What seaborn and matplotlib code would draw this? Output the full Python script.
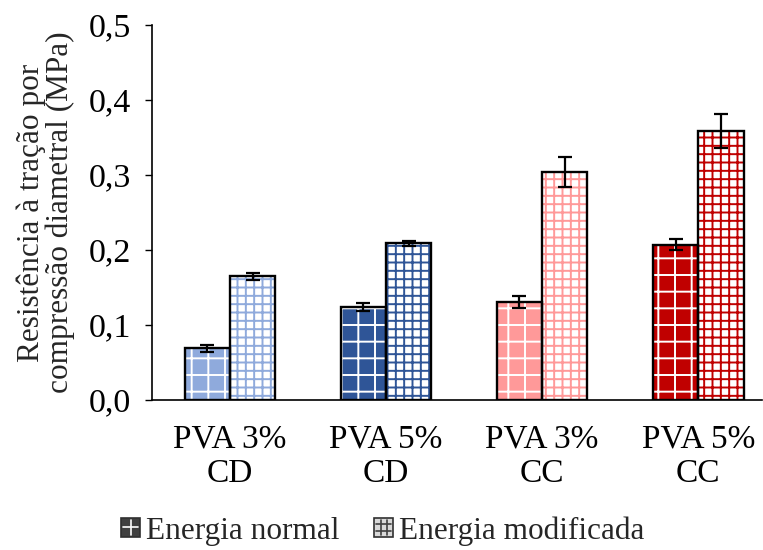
import matplotlib
matplotlib.use("Agg")
import matplotlib.pyplot as plt
from matplotlib.patches import Rectangle
from matplotlib.legend_handler import HandlerBase
from matplotlib.lines import Line2D
import seaborn as sns
import pandas as pd

categories = ["PVA 3%\nCD", "PVA 5%\nCD", "PVA 3%\nCC", "PVA 5%\nCC"]
series = ["Energia normal", "Energia modificada"]
normal = [0.069, 0.124, 0.131, 0.207]
modified = [0.165, 0.209, 0.304, 0.359]
normal_err = [0.0045, 0.005, 0.008, 0.0075]
modified_err = [0.005, 0.0033, 0.02, 0.023]
bar_colors = ["#8FAADC", "#2F5597", "#FF9999", "#C00000"]
y_ticks = [0.0, 0.1, 0.2, 0.3, 0.4, 0.5]
y_tick_labels = ["0,0", "0,1", "0,2", "0,3", "0,4", "0,5"]
y_label = "Resistência à tração por\ncompressão diametral (MPa)"

sns.set_theme(style="white")
plt.rcParams["font.family"] = ["Liberation Serif", "DejaVu Serif"]
plt.rcParams["hatch.linewidth"] = 1.4
plt.rcParams["font.size"] = 22

df = pd.DataFrame({
    "grupo": categories * 2,
    "valor": normal + modified,
    "serie": [series[0]] * 4 + [series[1]] * 4,
})

fig = plt.figure(figsize=(7.63, 5.5), dpi=100)
ax = fig.add_axes([0.199, 0.2727, 0.8, 0.6818])

sns.barplot(data=df, x="grupo", y="valor", hue="serie", order=categories,
            hue_order=series, errorbar=None, width=0.58, dodge=True,
            ax=ax, legend=False)

errs = [normal_err, modified_err]
vals = [normal, modified]
bar_containers = list(ax.containers)
for s_idx, container in enumerate(bar_containers):
    bars = sorted(container.patches, key=lambda p: p.get_x())
    for c_idx, bar in enumerate(bars):
        col = bar_colors[c_idx]
        if s_idx == 0:
            bar.set_facecolor(col)
            bar.set_edgecolor("white")
            bar.set_hatch("+")
        else:
            bar.set_facecolor("white")
            bar.set_edgecolor(col)
            bar.set_hatch("++")
        bar.set_linewidth(0)
        ax.add_patch(Rectangle((bar.get_x(), bar.get_y()), bar.get_width(),
                               bar.get_height(), fill=False, edgecolor="black",
                               linewidth=1.7, zorder=3))
        xc = bar.get_x() + bar.get_width() / 2
        ax.errorbar(xc, vals[s_idx][c_idx], yerr=errs[s_idx][c_idx], fmt="none",
                    ecolor="black", elinewidth=1.6, capsize=5, capthick=1.6,
                    zorder=5)

ax.set_xlim(-0.5, 3.41)
ax.set_ylim(0, 0.5)
ax.set_yticks(y_ticks)
ax.set_yticklabels(y_tick_labels)
ax.set_xlabel("")
ax.set_ylabel(y_label, fontsize=22.5, linespacing=0.95, labelpad=10)
ax.tick_params(axis="y", which="major", left=True, length=5, width=1,
               color="black", pad=10, labelsize=24.5, labelcolor="black")
ax.tick_params(axis="x", length=0, pad=17, labelsize=24, labelcolor="black")
for side in ["top", "right"]:
    ax.spines[side].set_visible(False)
for side in ["left", "bottom"]:
    ax.spines[side].set_color("black")
    ax.spines[side].set_linewidth(1.2)


class SquareKey(HandlerBase):
    def __init__(self, face, line, grid):
        super().__init__()
        self.face, self.line, self.grid = face, line, grid

    def create_artists(self, legend, orig_handle, xdescent, ydescent,
                       width, height, fontsize, trans):
        s = min(width, height)
        x0 = -xdescent + (width - s) / 2
        y0 = -ydescent + (height - s) / 2
        arts = [Rectangle((x0, y0), s, s, facecolor=self.face,
                          edgecolor="#303030", linewidth=1.2, transform=trans)]
        for k in range(1, self.grid):
            f = k / self.grid
            arts.append(Line2D([x0 + f * s] * 2, [y0 + 1.5, y0 + s - 1.5],
                               color=self.line, linewidth=1.2, transform=trans))
            arts.append(Line2D([x0 + 1.5, x0 + s - 1.5], [y0 + f * s] * 2,
                               color=self.line, linewidth=1.2, transform=trans))
        return arts


h1 = Rectangle((0, 0), 1, 1)
h2 = Rectangle((0, 0), 1, 1)
fig.legend([h1, h2], series, loc="center", bbox_to_anchor=(0.502, 0.035),
           ncol=2, frameon=False, fontsize=22.5, handlelength=0.6,
           handleheight=0.6, handletextpad=0.2, columnspacing=1.1,
           handler_map={h1: SquareKey("#404040", "white", 2),
                        h2: SquareKey("#D9D9D9", "#404040", 3)})

fig.savefig("out.png", dpi=100)
